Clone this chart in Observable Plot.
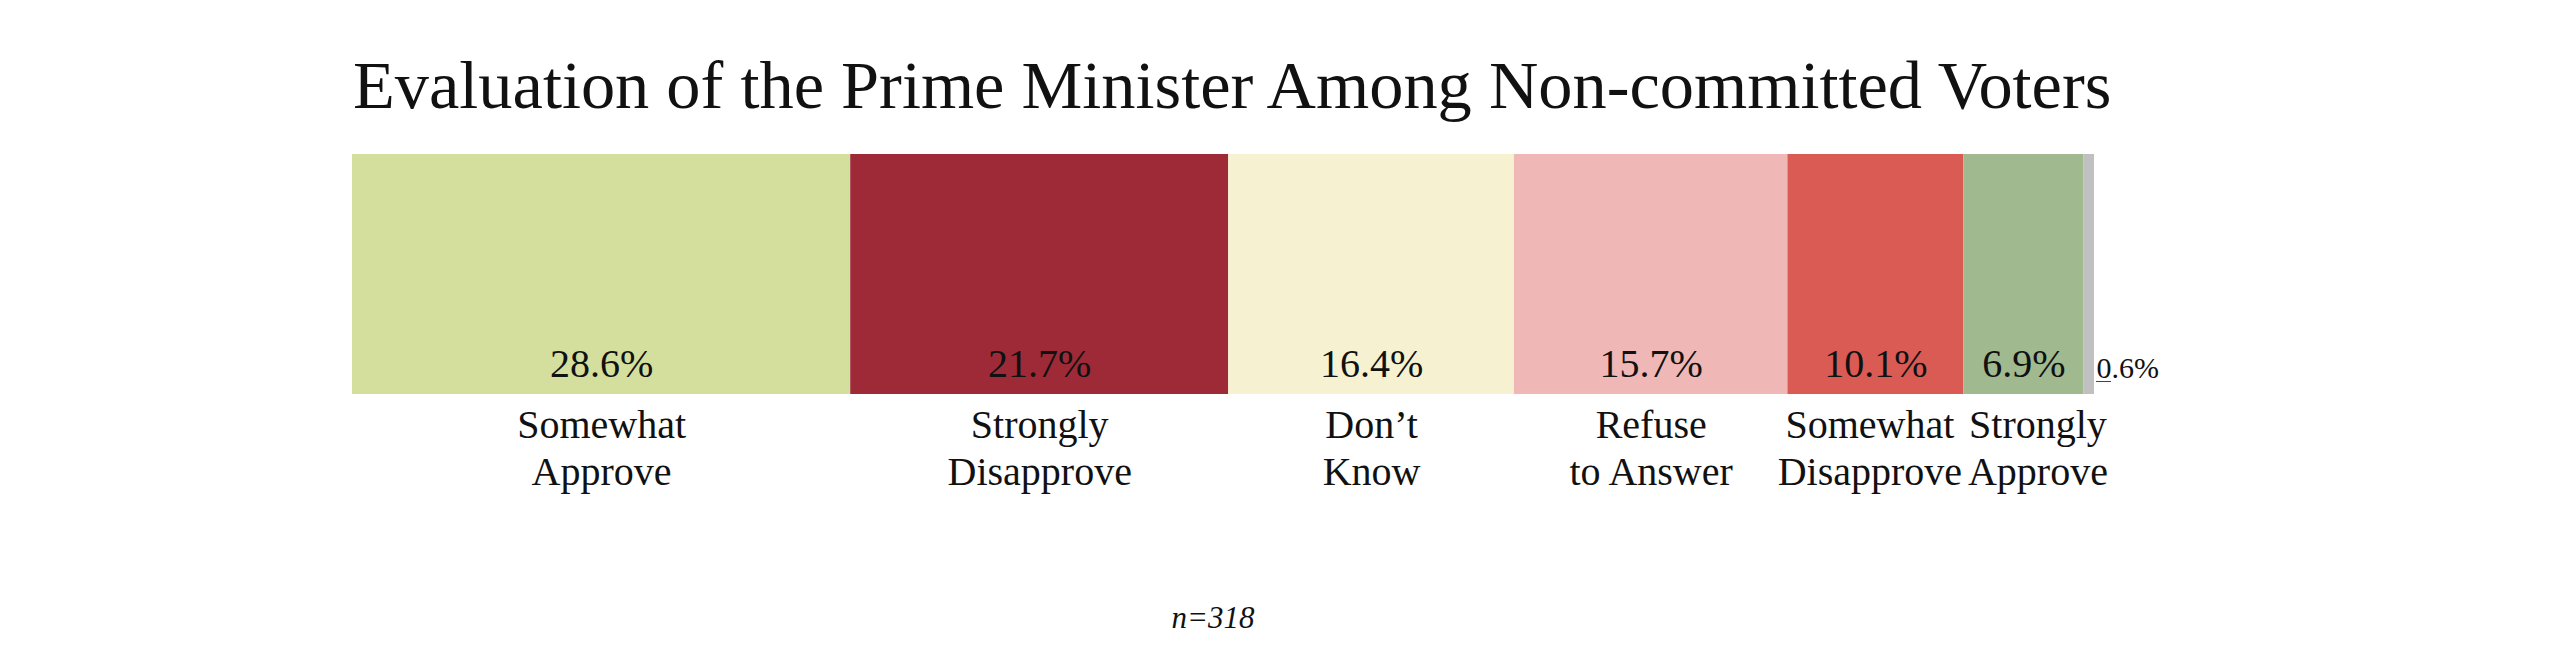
<!DOCTYPE html>
<html>
<head>
<meta charset="utf-8">
<script src="https://cdn.jsdelivr.net/npm/d3@7"></script>
<script src="https://cdn.jsdelivr.net/npm/@observablehq/plot@0.6"></script>
<style>
  body { margin: 0; background: #fff; width: 2560px; height: 651px; overflow: hidden;
         font-family: "Liberation Serif", "Times New Roman", serif; color: #111; position: relative; }
  #title { height: 130px; box-sizing: border-box; padding: 51px 0 0 353px;
           font-size: 68.4px; line-height: 68px; white-space: nowrap; }
  #chart svg { display: block; }
  #note { position: absolute; left: 1213px; top: 602px; transform: translateX(-50%);
          font-style: italic; font-size: 31px; line-height: 31px; white-space: nowrap; }
</style>
</head>
<body>
<div id="title">Evaluation of the Prime Minister Among Non-committed Voters</div>
<div id="chart"></div>
<div id="note"></div>
<script>
// Survey responses, in the order they are stacked
const categories = ["Somewhat Approve", "Strongly Disapprove", "Don’t Know", "Refuse to Answer",
                    "Somewhat Disapprove", "Strongly Approve", "Other"];
const labels = ["Somewhat\nApprove", "Strongly\nDisapprove", "Don’t\nKnow", "Refuse\nto Answer",
                "Somewhat\nDisapprove", "Strongly\nApprove", ""];
const shares = [28.6, 21.7, 16.4, 15.7, 10.1, 6.9, 0.6];
const colors = ["#d4df9d", "#9e2a37", "#f6f1d0", "#efb8b6", "#da5a54", "#a0b98f", "#c0c0c0"];
const sampleSize = 318;

const data = categories.map((c, i) => ({category: c, label: labels[i], value: shares[i]}));
const pct = d => `${d.value.toFixed(1)}%`;
const small = d => d.value < 2;

document.getElementById("note").textContent = `n=${sampleSize}`;

// the two narrow neighbours at the right end are pushed apart so their names don't touch
const nudge = {"Somewhat Disapprove": -6, "Strongly Approve": 14};
const nameMark = dx => Plot.text(data, Plot.stackX({
  x: "value",
  text: d => ((nudge[d.category] ?? 0) === dx ? d.label : ""),
  frameAnchor: "bottom", lineAnchor: "bottom", lineHeight: 1.175,
  dx, dy: 90, fontSize: 40, fill: "#111"
}));

const chart = Plot.plot({
  width: 2560,
  height: 460,
  marginLeft: 352,
  marginRight: 466,
  marginTop: 24,
  marginBottom: 196,
  style: {fontFamily: "'Liberation Serif', 'Times New Roman', serif", background: "#fff", color: "#111"},
  x: {domain: [0, 100], axis: null},
  color: {domain: categories, range: colors},
  marks: [
    Plot.barX(data, Plot.stackX({x: "value", fill: "category"})),
    // percentages inside each segment
    Plot.text(data, Plot.stackX({
      x: "value", text: d => small(d) ? "" : pct(d),
      frameAnchor: "bottom", lineAnchor: "bottom", dy: -18, fontSize: 40, fill: "#111"
    })),
    // the sliver's percentage sits just past the end of the bar
    Plot.text(data, Plot.stackX2({
      x: "value", text: d => small(d) ? pct(d) : "",
      frameAnchor: "bottom", lineAnchor: "bottom", textAnchor: "start",
      dx: 2, dy: -17, fontSize: 30, fill: "#111"
    })),
    // category names under the bar
    ...[0, ...new Set(Object.values(nudge))].map(nameMark)
  ]
});
document.getElementById("chart").append(chart);

// short leader stroke under the sliver's label, anchored at the end of the bar
const xs = chart.scale("x");
const end = xs.apply(d3.sum(shares));
d3.select(chart).append("line")
  .attr("x1", end + 2).attr("x2", end + 17)
  .attr("y1", 251.5).attr("y2", 251.5)
  .attr("stroke", "#444").attr("stroke-width", 1);
</script>
</body>
</html>
